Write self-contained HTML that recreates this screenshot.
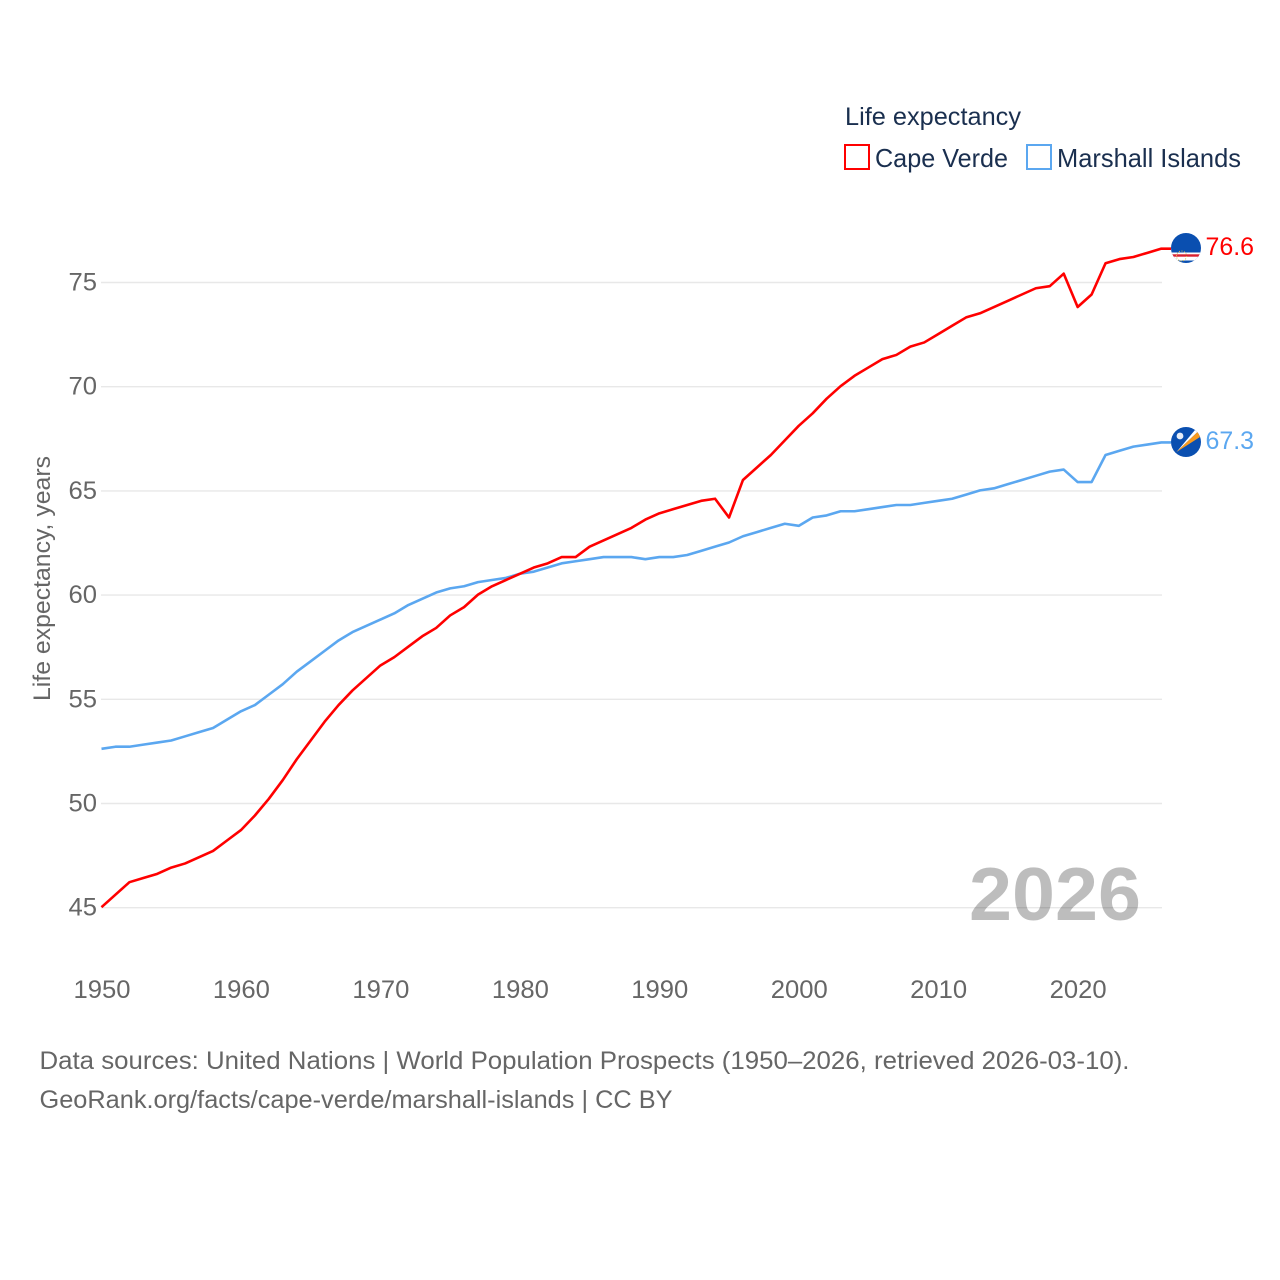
<!DOCTYPE html>
<html lang="en">
<head>
<meta charset="utf-8">
<title>Life expectancy: Cape Verde and Marshall Islands</title>
<style>
html,body{margin:0;padding:0;background:#fff;width:1280px;height:1280px;overflow:hidden}
svg{display:block}
text{font-family:"Liberation Sans",sans-serif}
</style>
</head>
<body>
<svg id="chart" width="1280" height="1280" viewBox="0 0 1280 1280" xmlns="http://www.w3.org/2000/svg">
  <rect width="1280" height="1280" fill="#fff"/>
  <g id="grid"></g>
  <g id="yticks"></g>
  <g id="xticks"></g>
  <text transform="translate(50,701) rotate(-90)" font-size="24" fill="#666" textLength="245" lengthAdjust="spacingAndGlyphs">Life expectancy, years</text>

  <text x="969" y="920" font-size="75" font-weight="bold" fill="#000" fill-opacity="0.26" textLength="172" lengthAdjust="spacingAndGlyphs">2026</text>

  <g id="series" transform="translate(0,-0.5)"></g>

  <g>
    <text x="845" y="125" font-size="25" fill="#1a2f4f" textLength="176" lengthAdjust="spacingAndGlyphs">Life expectancy</text>
    <g>
      <rect x="845" y="145" width="24" height="24" fill="#fff" stroke="#ff0000" stroke-width="2"/>
      <text x="875" y="167" font-size="26" fill="#1a2f4f" textLength="133" lengthAdjust="spacingAndGlyphs">Cape Verde</text>
    </g>
    <g>
      <rect x="1027" y="145" width="24" height="24" fill="#fff" stroke="#5ba7f0" stroke-width="2"/>
      <text x="1057" y="167" font-size="26" fill="#1a2f4f" textLength="184" lengthAdjust="spacingAndGlyphs">Marshall Islands</text>
    </g>
  </g>

  <defs>
    <clipPath id="cv-clip"><circle cx="1186" cy="248" r="15"/></clipPath>
    <clipPath id="mh-clip"><circle cx="1186" cy="442" r="15"/></clipPath>
  </defs>
  <g clip-path="url(#cv-clip)">
    <rect x="1171" y="233" width="30" height="30" fill="#0a4fb0"/>
    <rect x="1171" y="252.5" width="30" height="8" fill="#fff"/>
    <rect x="1171" y="254.3" width="30" height="2.4" fill="#d8202f"/>
    <circle cx="1181.5" cy="256" r="5" fill="none" stroke="#d6b94a" stroke-width="1" stroke-dasharray="1 1.6"/>
  </g>
  <g clip-path="url(#mh-clip)">
    <rect x="1171" y="427" width="30" height="30" fill="#0a4fb0"/>
    <polygon points="1176.5,452 1195,430 1198,431.5" fill="#fff"/>
    <polygon points="1176.5,452 1198,431.5 1200,437" fill="#f79a1e"/>
    <circle cx="1180" cy="436" r="3.4" fill="#e8eef8"/>
  </g>

  <text id="end-cv" x="1205.5" y="255" font-size="25" fill="#ff0000" textLength="48.5" lengthAdjust="spacingAndGlyphs"></text>
  <text id="end-mh" x="1205.5" y="449" font-size="25" fill="#5ba7f0" textLength="48.5" lengthAdjust="spacingAndGlyphs"></text>

  <g>
    <text x="39.5" y="1069" font-size="25" fill="#666" textLength="1090" lengthAdjust="spacingAndGlyphs">Data sources: United Nations | World Population Prospects (1950–2026, retrieved 2026-03-10).</text>
    <text x="39.5" y="1108" font-size="25" fill="#666" textLength="633" lengthAdjust="spacingAndGlyphs">GeoRank.org/facts/cape-verde/marshall-islands | CC BY</text>
  </g>
</svg>
<script>
const startYear = 1950;
const capeVerde = [45.0,45.6,46.2,46.4,46.6,46.9,47.1,47.4,47.7,48.2,48.7,49.4,50.2,51.1,52.1,53.0,53.9,54.7,55.4,56.0,56.6,57.0,57.5,58.0,58.4,59.0,59.4,60.0,60.4,60.7,61.0,61.3,61.5,61.8,61.8,62.3,62.6,62.9,63.2,63.6,63.9,64.1,64.3,64.5,64.6,63.7,65.5,66.1,66.7,67.4,68.1,68.7,69.4,70.0,70.5,70.9,71.3,71.5,71.9,72.1,72.5,72.9,73.3,73.5,73.8,74.1,74.4,74.7,74.8,75.4,73.8,74.4,75.9,76.1,76.2,76.4,76.6];
const marshallIslands = [52.6,52.7,52.7,52.8,52.9,53.0,53.2,53.4,53.6,54.0,54.4,54.7,55.2,55.7,56.3,56.8,57.3,57.8,58.2,58.5,58.8,59.1,59.5,59.8,60.1,60.3,60.4,60.6,60.7,60.8,61.0,61.1,61.3,61.5,61.6,61.7,61.8,61.8,61.8,61.7,61.8,61.8,61.9,62.1,62.3,62.5,62.8,63.0,63.2,63.4,63.3,63.7,63.8,64.0,64.0,64.1,64.2,64.3,64.3,64.4,64.5,64.6,64.8,65.0,65.1,65.3,65.5,65.7,65.9,66.0,65.4,65.4,66.7,66.9,67.1,67.2,67.3];
const yTickValues = [45,50,55,60,65,70,75];
const xTickYears = [1950,1960,1970,1980,1990,2000,2010,2020];

const NS = 'http://www.w3.org/2000/svg';
const xScale = function (year) { return 101.5 + (year - 1950) * 13.945; };
const yScale = function (v) { return 907.7 - (v - 45) * 20.84; };

const grid = document.getElementById('grid');
const yticks = document.getElementById('yticks');
const xticks = document.getElementById('xticks');
const series = document.getElementById('series');

yTickValues.forEach(function (v) {
  const line = document.createElementNS(NS, 'line');
  
  
  line.setAttribute('x1', 101);
  line.setAttribute('x2', 1162);
  line.setAttribute('y1', yScale(v));
  line.setAttribute('y2', yScale(v));
  line.setAttribute('stroke', '#e8e8e8');
  line.setAttribute('stroke-width', '1.4');
  grid.appendChild(line);

  const t = document.createElementNS(NS, 'text');
  
  
  t.setAttribute('x', 97);
  t.setAttribute('y', yScale(v) + 8);
  t.setAttribute('text-anchor', 'end');
  t.setAttribute('font-size', '25');
  t.setAttribute('fill', '#666');
  t.setAttribute('textLength', '28.5');
  t.setAttribute('lengthAdjust', 'spacingAndGlyphs');
  t.textContent = String(v);
  yticks.appendChild(t);
});

xTickYears.forEach(function (y) {
  const t = document.createElementNS(NS, 'text');
  
  
  t.setAttribute('x', xScale(y) + 0.5);
  t.setAttribute('y', 998);
  t.setAttribute('text-anchor', 'middle');
  t.setAttribute('font-size', '25');
  t.setAttribute('fill', '#666');
  t.setAttribute('textLength', '57');
  t.setAttribute('lengthAdjust', 'spacingAndGlyphs');
  t.textContent = String(y);
  xticks.appendChild(t);
});

function drawSeries(values, color, name) {
  const pts = values.map(function (v, i) {
    return xScale(startYear + i).toFixed(2) + ',' + yScale(v).toFixed(2);
  });
  const last = values[values.length - 1];
  pts.push('1171,' + yScale(last).toFixed(2));
  const line = document.createElementNS(NS, 'polyline');
  
  
  line.setAttribute('points', pts.join(' '));
  line.setAttribute('fill', 'none');
  line.setAttribute('stroke', color);
  line.setAttribute('stroke-width', '2.6');
  line.setAttribute('stroke-linejoin', 'round');
  series.appendChild(line);
}
drawSeries(marshallIslands, '#5ba7f0', 'line-marshall-islands');
drawSeries(capeVerde, '#ff0000', 'line-cape-verde');

document.getElementById('end-cv').textContent = capeVerde[capeVerde.length - 1].toFixed(1);
document.getElementById('end-mh').textContent = marshallIslands[marshallIslands.length - 1].toFixed(1);
</script>
</body>
</html>
